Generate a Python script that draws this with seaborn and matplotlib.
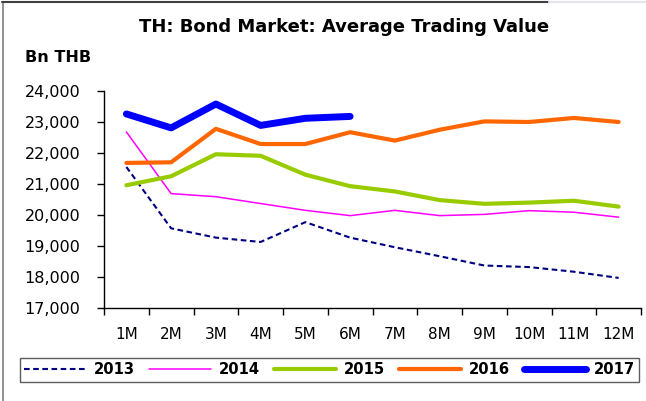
import matplotlib
matplotlib.use("Agg")
import matplotlib.pyplot as plt
from matplotlib.ticker import StrMethodFormatter, FixedLocator
from matplotlib.lines import Line2D
import seaborn as sns
import pandas as pd

months = ["1M", "2M", "3M", "4M", "5M", "6M", "7M", "8M", "9M", "10M", "11M", "12M"]

y2013 = [21550, 19570, 19270, 19130, 19770, 19270, 18960, 18670, 18370, 18320, 18170, 17970]
y2014 = [22680, 20690, 20590, 20370, 20150, 19980, 20150, 19980, 20020, 20140, 20090, 19930]
y2015 = [20960, 21250, 21960, 21910, 21300, 20930, 20760, 20480, 20360, 20400, 20460, 20270]
y2016 = [21680, 21700, 22780, 22290, 22290, 22670, 22400, 22750, 23020, 23000, 23130, 23000]
y2017 = [23260, 22810, 23580, 22890, 23120, 23180]

sns.set_style("white")
plt.rcParams["font.family"] = ["DejaVu Sans"]
plt.rcParams.update({"text.color": "black", "axes.labelcolor": "black",
                     "xtick.color": "black", "ytick.color": "black"})

styles = {
    "2013": dict(color="#000080", lw=1.5, ls=(0, (2.7, 1.7))),
    "2014": dict(color="#FF00FF", lw=1.1, ls="-"),
    "2015": dict(color="#99CC00", lw=3.0, ls="-"),
    "2016": dict(color="#FF6600", lw=3.0, ls="-"),
    "2017": dict(color="#0000FF", lw=5.0, ls="-"),
}
series = {"2013": y2013, "2014": y2014, "2015": y2015, "2016": y2016, "2017": y2017}

fig = plt.figure(figsize=(6.46, 4.01), dpi=100)
ax = fig.add_axes([104 / 646, 1 - 308 / 401, (641 - 104) / 646, (308 - 91) / 401])

handles = []
for name, vals in series.items():
    df = pd.DataFrame({"month": months[:len(vals)], "value": vals})
    st = styles[name]
    sns.lineplot(data=df, x="month", y="value", ax=ax, color=st["color"],
                 linewidth=st["lw"], linestyle=st["ls"], sort=False,
                 solid_capstyle="round", dash_capstyle="butt", legend=False)
    handles.append(Line2D([], [], color=st["color"], lw=st["lw"], ls=st["ls"],
                          solid_capstyle="round", label=name))

ax.set_xlim(-0.5, len(months) - 0.5)
ax.set_ylim(17000, 24000)
ax.set_yticks(range(17000, 24001, 1000))
ax.yaxis.set_major_formatter(StrMethodFormatter("{x:,.0f}"))
ax.set_xticks(range(len(months)))
ax.set_xticklabels(months)
ax.xaxis.set_minor_locator(FixedLocator([i - 0.5 for i in range(len(months) + 1)]))
ax.tick_params(axis="x", which="major", length=0, pad=14, labelsize=11, colors="black")
ax.tick_params(axis="x", which="minor", length=5, width=1, direction="out", bottom=True, color="black")
ax.tick_params(axis="y", which="major", length=5, width=1, direction="out", left=True,
               pad=12, labelsize=11.5, colors="black")
ax.set_xlabel("")
ax.set_ylabel("")
for side in ("top", "right"):
    ax.spines[side].set_visible(False)
for side in ("left", "bottom"):
    ax.spines[side].set_color("black")
    ax.spines[side].set_linewidth(1)
ax.grid(False)

fig.text(344 / 646, 1 - 27 / 401, "TH: Bond Market: Average Trading Value",
         ha="center", va="center", fontsize=13, fontweight="bold", color="black")
fig.text(25 / 646, 1 - 58 / 401, "Bn THB", ha="left", va="center",
         fontsize=11.5, fontweight="bold", color="black")

leg = fig.legend(handles=handles, loc="center", bbox_to_anchor=(329.5 / 646, 1 - 370 / 401),
                 ncol=5, frameon=True, fancybox=False, handlelength=4.2,
                 handletextpad=0.5, columnspacing=1.0, borderpad=0.3,
                 prop={"size": 10.6, "weight": "bold"})
leg.get_frame().set_edgecolor("#333333")
leg.get_frame().set_linewidth(1)
for t in leg.get_texts():
    t.set_color("black")

# outer frame edges
fig.add_artist(Line2D([3 / 646, 3 / 646], [0, 1 - 2 / 401], transform=fig.transFigure,
                      color="#808080", lw=1.2))
fig.add_artist(Line2D([2 / 646, 549 / 646], [1 - 2 / 401, 1 - 2 / 401], transform=fig.transFigure,
                      color="#404040", lw=1.5))
fig.add_artist(Line2D([549 / 646, 1], [1 - 2 / 401, 1 - 2 / 401], transform=fig.transFigure,
                      color="#E4E4EE", lw=1.5))

fig.savefig("out.png", dpi=100)
